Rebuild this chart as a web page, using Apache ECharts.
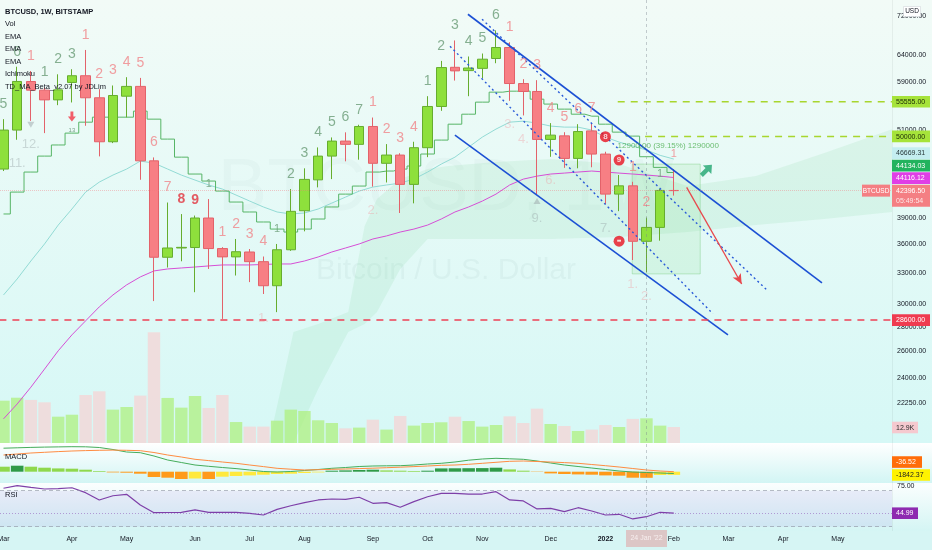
<!DOCTYPE html>
<html>
<head>
<meta charset="utf-8">
<script src="https://cdn.jsdelivr.net/npm/echarts@6.0.0/dist/echarts.min.js"></script>
<style>
html,body{margin:0;padding:0;background:#d6f6f5;}
#chart{width:932px;height:550px;}
</style>
</head>
<body>
<div id="chart"></div>
<script>
// ---------------- DATA ----------------
const weeks = ['2021-03-01','2021-03-08','2021-03-15','2021-03-22','2021-03-29','2021-04-05','2021-04-12','2021-04-19','2021-04-26','2021-05-03',
'2021-05-10','2021-05-17','2021-05-24','2021-05-31','2021-06-07','2021-06-14','2021-06-21','2021-06-28','2021-07-05','2021-07-12',
'2021-07-19','2021-07-26','2021-08-02','2021-08-09','2021-08-16','2021-08-23','2021-08-30','2021-09-06','2021-09-13','2021-09-20',
'2021-09-27','2021-10-04','2021-10-11','2021-10-18','2021-10-25','2021-11-01','2021-11-08','2021-11-15','2021-11-22','2021-11-29',
'2021-12-06','2021-12-13','2021-12-20','2021-12-27','2022-01-03','2022-01-10','2022-01-17','2022-01-24','2022-01-31','2022-02-07'];

const open  = [45270,50970,59080,57545,55870,58910,60130,56230,49190,56500,58210,46420,34620,35610,35660,39010,35550,34660,35180,34160,31750,35420,39880,43810,47090,49290,48800,51530,46070,47240,43210,48310,54760,61690,61070,61490,63360,65520,58720,57320,49540,50080,46760,50840,47380,41950,43020,36340,37910,42420];
const close = [50970,59090,57545,55870,57600,60130,56230,49190,56620,58210,46420,34620,35610,35680,39010,35550,34660,35210,34160,31750,35420,39810,43870,47090,49290,48800,51530,46070,47240,43210,48310,54760,61640,61020,61560,63230,65520,58720,57320,49540,50190,46760,50740,47380,41950,43020,36340,37910,42420,42396.5];
const low   = [45000,49490,52420,50500,54980,55430,51640,47050,48990,52960,43820,30300,33560,34200,31130,33410,28700,32750,32100,30960,29300,35300,37460,42820,43910,46350,46580,42920,43460,39610,40790,46940,54040,59250,56500,59680,62460,55710,53290,41950,46990,45440,45380,45520,40700,39830,34330,33080,36410,41760];
const high  = [52690,61800,61000,58000,60390,61330,65030,57720,58370,59860,59730,46900,40890,39480,39300,41320,35700,36600,35500,34700,36050,42600,45370,48350,49840,50620,51800,52950,48840,47500,49190,56500,62900,66940,63750,64330,69020,66570,59500,59320,52060,50640,51890,52060,47720,44460,43550,39060,42600,45270];
const volumeK = [34.1,36.5,34.7,32.8,21.2,22.8,38.7,41.7,26.9,29.0,38.2,89.2,36.3,28.5,37.9,28.2,38.7,16.9,13.2,13.2,18.0,26.9,25.8,18.3,16.1,11.8,12.4,18.8,10.8,21.8,14.0,16.1,16.7,21.2,17.7,13.2,14.5,21.5,16.1,27.7,15.3,13.7,9.7,10.8,14.5,12.9,19.4,19.9,14.0,12.9];

const emaFast = [30870,32410,34230,36050,38180,40090,42210,43510,44450,45270,46380,46100,45270,44450,43780,43130,42600,41830,41070,40340,39730,39490,39610,40090,40820,41570,42340,42860,43130,43380,43910,44860,45960,46940,48390,49890,51120,52210,52370,52060,51590,51430,51430,50970,49890,49140,48550,47960,47200,46669.31];
const emaSlow = [21180,22160,23320,24640,26050,27340,28530,29770,30870,31830,32610,33210,33410,33510,33610,33720,33820,33820,33820,33870,33920,33920,34230,34650,35180,35610,36050,36600,36940,37380,37720,38180,38890,39730,40340,41070,41950,43130,43910,44310,44590,44720,44860,45000,44860,44720,44590,44450,44310,44116.12];
const baseLine = [39490,42210,44860,47090,48710,50500,52210,53010,53010,53010,53990,52690,49590,46940,44590,43650,42340,40950,39730,38540,37720,37380,37720,38890,40340,41950,42990,44860,45000,45270,45690,47390,49440,51890,53490,55490,57200,57370,57370,55990,55160,54320,53490,53170,51890,50650,50040,47000,45500,44800];

// Ichimoku cloud outline (bar index, upper, lower)
const cloudX   = [19.4,21.2,23,25.2,26.4,27.3,29,31,32.5,36,40,45,50,55,60,65];
const cloudTop = [19700,27590,28260,29320,38060,41320,43910,45270,45690,46240,46660,45960,42990,44320,47530,51120];
const cloudBot = [19700,19700,23200,27590,28260,29320,33410,36600,36600,36600,36600,36820,37380,38180,38890,39730];

const macdLine = [23500,23900,24300,24600,24800,25000,24900,24200,22200,19700,19000,15700,11700,9200,6700,5400,4200,3100,1700,200,-300,200,1200,2200,3400,4200,5200,5700,5900,6000,6700,7700,8400,9700,11500,12700,13400,12900,12400,10700,8700,6700,5200,3700,2200,700,-300,-800,-1300,-1842];
const signalLine = [16700,17700,18700,19400,20100,20700,21100,21400,21600,21400,21000,19200,16700,14700,12400,11100,9700,8400,6700,5100,3400,2500,1700,2000,2400,2700,3100,3500,4000,4500,5100,5700,6400,6700,7400,8400,9400,10400,10700,10200,9700,9100,8400,7200,6000,4700,3200,1700,700,0];
const macdHist = [5000,6000,5000,4000,3300,3000,2000,700,-700,-1000,-2000,-5300,-6000,-7300,-6800,-7300,-5000,-4300,-3700,-3000,-2300,-2000,-1300,-700,1000,1300,1700,2000,1300,1000,700,1000,3300,3400,3500,3600,4000,2300,1000,-300,-1700,-2300,-2700,-3000,-3700,-4000,-6000,-6100,-3300,-3200];
const rsi = [72.7,75.6,73.6,71.9,72.4,73.3,67.8,59.7,64.4,66.0,54.1,45.6,45.8,46.0,48.6,46.0,46.0,46.0,44.9,43.0,49.3,53.3,56.7,59.7,60.8,60.4,62.7,56.0,56.7,51.6,57.8,63.3,67.1,67.1,66.3,66.3,68.9,59.7,58.6,49.7,50.4,46.7,51.1,47.4,43.0,43.8,38.6,41.1,46.0,44.99];

const monthTicks = [0,5,9,14,18,22,27,31,35,40,44,49,53,57,61];
const monthNames = ['Mar','Apr','May','Jun','Jul','Aug','Sep','Oct','Nov','Dec','2022','Feb','Mar','Apr','May'];
const priceTicks = [72000,64000,59000,51000,39000,36000,33000,30000,28000,26000,24000,22250];

// drawing tools (bar index, price)
const channelUpper = [[33.95,72490],[59.83,32020]];
const channelLower = [[33.0,50200],[52.96,27340]];
const dottedA = [[34.98,71400],[55.88,31250]];
const dottedB = [[32.64,65770],[51.86,29150]];
const levels = [{v:55555,from:44.9,c:'#a8d62e'},{v:50000,from:46.9,c:'#a8d62e'},{v:28600,from:-0.3,c:'#ee4055'}];
const redArrow = [[49.94,42820],[53.96,31920]];
const greenArrowAt = [51.4,45130];
const measureBox = [[45.96,45960],[50.93,32910]];
const measureText = {at:[44.85,48540], text:'12900.00 (39.15%) 1290000'};

// TD sequential labels: [bar, text, style]
const tdTop = [[0,'5','g'],[1,'6','g'],[2,'1','r'],[3,'1','g'],[4,'2','g'],[5,'3','g'],[6,'1','r'],[7,'2','r'],[8,'3','r'],[9,'4','r'],[10,'5','r'],[11,'6','r'],[12,'7','r'],[13,'8','R'],[14,'9','R'],[15,'1','s'],[16,'1','r'],[17,'2','r'],[18,'3','r'],[19,'4','r'],[20,'1','s'],[21,'2','g'],[22,'3','g'],[23,'4','g'],[24,'5','g'],[25,'6','g'],[26,'7','g'],[27,'1','r'],[28,'2','r'],[29,'3','r'],[30,'4','r'],[31,'1','g'],[32,'2','g'],[33,'3','g'],[34,'4','g'],[35,'5','g'],[36,'6','g'],[37,'1','r'],[38,'2','r'],[39,'3','r'],[40,'4','r'],[41,'5','r'],[42,'6','r'],[43,'7','r'],[46,'1','r'],[47,'2','r'],[48,'1','s'],[49,'1','q']];
const tdBadges = [[44,'8'],[45,'9']];
const tdBelow = [[1,'11.','k'],[2,'12.','k'],[19,'1.','p'],[27,'2.','p'],[37,'3.','p'],[38,'4.','p'],[39,'9.','k'],[40,'6.','p'],[44,'7.','k'],[46,'1.','p'],[47,'2.','p']];

// ---------------- CHART ----------------
const FONT = 'Liberation Sans, Arial, sans-serif';
const XMIN = -0.256, XMAX = 64.949;
const chart = echarts.init(document.getElementById('chart'), null, {renderer:'canvas'});

const tdStyle = {
  g:{color:'#6a9c77',fontSize:14}, r:{color:'#f0868a',fontSize:14},
  R:{color:'#e2323c',fontSize:14,fontWeight:'bold'},
  s:{color:'#6a9c77',fontSize:11}, q:{color:'#f0868a',fontSize:11},
  k:{color:'rgba(150,162,166,0.5)',fontSize:13}, p:{color:'rgba(240,150,156,0.45)',fontSize:13}
};
const labelData = [];
tdTop.forEach(([i,t,s]) => labelData.push({value:[i,high[i]], label:Object.assign({show:true,position:'inside',offset:[0,-15],formatter:t,fontFamily:FONT}, tdStyle[s])}));
tdBelow.forEach(([i,t,s]) => labelData.push({value:[i,low[i]], label:Object.assign({show:true,position:'inside',offset:[0,24],formatter:t,fontFamily:FONT}, tdStyle[s])}));

const xAxes = [0,1,2,3].map(g => ({
  type:'value', gridIndex:g, min:XMIN, max:XMAX, show: g===3,
  axisLine:{show:false}, axisTick:{show:false}, splitLine:{show:false},
  axisLabel: g===3 ? {
    customValues: monthTicks, margin:5, fontSize:7, color:'#131722', fontFamily:FONT,
    formatter: v => { const n = monthNames[monthTicks.indexOf(v)] || ''; return n==='2022' ? '{b|2022}' : n; },
    rich:{b:{fontWeight:'bold',fontSize:7,color:'#131722',fontFamily:FONT}}
  } : {show:false}
}));

const up = '#8ee03c', upB = '#66ad2e', dn = '#f77f84', dnB = '#e3626a';

const option = {
  animation:false,
  backgroundColor:'#d6f6f5',
  grid:[
    {left:0, top:0, width:892, height:443, outerBoundsMode:'none'},
    {left:0, top:0, width:892, height:443, outerBoundsMode:'none'},
    {left:0, top:445, width:892, height:38, outerBoundsMode:'none'},
    {left:0, top:484, width:892, height:47, outerBoundsMode:'none'}
  ],
  xAxis: xAxes,
  yAxis:[
    {type:'log', gridIndex:0, min:19680, max:75700, position:'right',
     axisLine:{show:false}, axisTick:{show:false}, splitLine:{show:false},
     axisLabel:{customValues:priceTicks, formatter:v=>Number(v).toFixed(2), fontSize:7, color:'#131722', margin:5, fontFamily:FONT}},
    {type:'value', gridIndex:1, min:0, max:357, show:false, splitLine:{show:false}},
    {type:'value', gridIndex:2, min:-11300, max:26700, show:false, splitLine:{show:false}},
    {type:'value', gridIndex:3, min:25.22, max:77.44, position:'right',
     axisLine:{show:false}, axisTick:{show:false}, splitLine:{show:false},
     axisLabel:{customValues:[75], formatter:v=>Number(v).toFixed(2), fontSize:7, color:'#131722', margin:5, fontFamily:FONT}}
  ],
  series:[
    {type:'custom', xAxisIndex:0, yAxisIndex:0, z:1, silent:true, clip:true, data:[[0,30000]],
     renderItem:(p, api) => {
       const pts = [];
       for (let k=0;k<cloudX.length;k++) pts.push(api.coord([cloudX[k], cloudTop[k]]));
       for (let k=cloudX.length-1;k>=0;k--) pts.push(api.coord([cloudX[k], cloudBot[k]]));
       return {type:'polygon', shape:{points:pts}, style:{fill:'rgba(120,212,150,0.14)'}};
     }},
    {type:'bar', xAxisIndex:1, yAxisIndex:1, z:1, barWidth:12.4, silent:true,
     data: volumeK.map((v,i)=>[i,v]),
     itemStyle:{color: p => close[p.dataIndex] >= open[p.dataIndex] ? 'rgba(172,240,120,0.7)' : 'rgba(242,216,216,0.85)'}},
    {type:'candlestick', xAxisIndex:0, yAxisIndex:0, z:3, barWidth:10,
     data: open.map((o,i)=>[i,o,close[i],low[i],high[i]]),
     encode:{x:0, y:[1,2,3,4]},
     itemStyle:{color:up, color0:dn, borderColor:upB, borderColor0:dnB, borderWidth:1},
     markLine:{silent:true, symbol:['none','none'], label:{show:false},
       lineStyle:{color:'rgba(242,120,125,0.4)', type:'dotted', width:1},
       data:[{yAxis:close[close.length-1]}]},
     markArea:{silent:true, itemStyle:{color:'rgba(120,222,120,0.14)', borderColor:'rgba(90,190,90,0.3)', borderWidth:1},
       data:[[{coord:measureBox[0]},{coord:measureBox[1]}]]}
    },
    {type:'line', xAxisIndex:0, yAxisIndex:0, z:2, symbol:'none', data:emaFast.map((v,i)=>[i,v]), lineStyle:{color:'#93dbd5', width:1}},
    {type:'line', xAxisIndex:0, yAxisIndex:0, z:2, symbol:'none', data:emaSlow.map((v,i)=>[i,v]), lineStyle:{color:'#d64fd6', width:1}},
    {type:'line', xAxisIndex:0, yAxisIndex:0, z:2, symbol:'none', step:'middle', data:baseLine.map((v,i)=>[i,v]), lineStyle:{color:'#57b567', width:1}},
    {type:'line', xAxisIndex:0, yAxisIndex:0, z:4, symbol:'none', data:channelUpper, lineStyle:{color:'#1c50d4', width:1.6}},
    {type:'line', xAxisIndex:0, yAxisIndex:0, z:4, symbol:'none', data:channelLower, lineStyle:{color:'#1c50d4', width:1.6}},
    {type:'line', xAxisIndex:0, yAxisIndex:0, z:4, symbol:'none', data:dottedA, lineStyle:{color:'#2a5bd8', width:1.4, type:[2,3]}},
    {type:'line', xAxisIndex:0, yAxisIndex:0, z:4, symbol:'none', data:dottedB, lineStyle:{color:'#2a5bd8', width:1.4, type:[2,3]}},
    ...levels.map(l => ({type:'line', xAxisIndex:0, yAxisIndex:0, z:4, symbol:'none', data:[[l.from,l.v],[XMAX,l.v]], lineStyle:{color:l.c, width:1.5, type:[7,6]}})),
    {type:'line', xAxisIndex:0, yAxisIndex:0, z:5, symbol:'none', data:[], 
     markLine:{silent:true, symbol:['none','arrow'], symbolSize:[7,10], label:{show:false},
       lineStyle:{color:'#e8484d', width:1.3, type:'solid'},
       data:[[{coord:redArrow[0]},{coord:redArrow[1]}]]}},
    {type:'scatter', xAxisIndex:0, yAxisIndex:0, z:6, silent:true,
     symbol:'path://M5,0 L10,5.5 L6.8,5.5 L6.8,12 L3.2,12 L3.2,5.5 L0,5.5 Z', symbolSize:[12,15], symbolRotate:-45,
     itemStyle:{color:'#1fa56f'}, data:[greenArrowAt]},
    {type:'scatter', xAxisIndex:0, yAxisIndex:0, z:6, silent:true, symbolSize:1, itemStyle:{color:'rgba(0,0,0,0)'},
     data:[{value:measureText.at, label:{show:true, position:'right', distance:0, formatter:measureText.text, color:'#4caf50', fontSize:8, fontFamily:FONT}}]},
    {type:'scatter', xAxisIndex:0, yAxisIndex:0, z:7, silent:true, symbolSize:1, itemStyle:{color:'rgba(0,0,0,0)'}, data:labelData},
    {type:'scatter', xAxisIndex:0, yAxisIndex:0, z:7, silent:true, symbol:'circle', symbolSize:11, symbolOffset:[0,-15],
     itemStyle:{color:'#e8121f'},
     data: tdBadges.map(([i,t]) => ({value:[i,high[i]], label:{show:true, position:'inside', formatter:t, color:'#fff', fontSize:8, fontWeight:'bold', fontFamily:FONT}}))},
    {type:'scatter', xAxisIndex:0, yAxisIndex:0, z:7, silent:true, symbol:'circle', symbolSize:11, symbolOffset:[0,30],
     itemStyle:{color:'#e8121f'},
     data:[{value:[45,low[45]], label:{show:true, position:'inside', formatter:'▬', color:'#fff', fontSize:5, fontFamily:'DejaVu Sans'}}]},
    {type:'scatter', xAxisIndex:0, yAxisIndex:0, z:7, silent:true,
     symbol:'path://M3.2,0 L6.8,0 L6.8,6 L10,6 L5,12 L0,6 L3.2,6 Z', symbolSize:[8,10], symbolOffset:[0,14],
     itemStyle:{color:'#f23645'}, data:[[5,low[5]]]},
    {type:'scatter', xAxisIndex:0, yAxisIndex:0, z:7, silent:true, symbolSize:1, itemStyle:{color:'rgba(0,0,0,0)'},
     data:[{value:[5,low[5]], label:{show:true, position:'inside', offset:[0,28], formatter:'13', color:'#5d8c6b', fontSize:6, fontFamily:FONT}}]},
    {type:'scatter', xAxisIndex:0, yAxisIndex:0, z:7, silent:true, symbol:'triangle', symbolSize:[7,6],
     itemStyle:{color:'rgba(150,160,165,0.6)'},
     data:[{value:[2,low[2]], symbolRotate:180, symbolOffset:[0,4]},{value:[39,low[39]], symbolOffset:[0,7]}]},
    // MACD
    {type:'bar', xAxisIndex:2, yAxisIndex:2, barWidth:12.6, silent:true, data:macdHist.map((v,i)=>[i,v]),
     itemStyle:{color: p => {
       const i = p.dataIndex, v = macdHist[i], pv = i>0 ? macdHist[i-1] : v+1;
       if (v >= 0) return v > pv ? '#2f9a47' : '#8fd84c';
       return v < pv ? '#ff9a1a' : '#ffe93d';
     }}},
    {type:'line', xAxisIndex:2, yAxisIndex:2, symbol:'none', z:3, data:macdLine.map((v,i)=>[i,v]), lineStyle:{color:'#45ad5b', width:1}},
    {type:'line', xAxisIndex:2, yAxisIndex:2, symbol:'none', z:3, data:signalLine.map((v,i)=>[i,v]), lineStyle:{color:'#ff8c42', width:1}},
    // RSI
    {type:'line', xAxisIndex:3, yAxisIndex:3, symbol:'none', z:3, data:rsi.map((v,i)=>[i,v]), lineStyle:{color:'#7e3fa8', width:1.2},
     markArea:{silent:true, itemStyle:{color:'rgba(150,120,225,0.13)'}, data:[[{yAxis:30},{yAxis:70}]]},
     markLine:{silent:true, symbol:['none','none'], label:{show:false},
       data:[{yAxis:70, lineStyle:{color:'rgba(140,145,160,0.6)', type:[4,3], width:1}},
             {yAxis:30, lineStyle:{color:'rgba(140,145,160,0.6)', type:[4,3], width:1}},
             {yAxis:rsi[rsi.length-1], lineStyle:{color:'rgba(150,100,190,0.6)', type:[1,2], width:1}}]}}
  ]
};
chart.setOption(option);

// ---------------- OVERLAY TEXT / TAGS ----------------
const Y  = v => chart.convertToPixel({yAxisIndex:0}, v);
const X  = v => chart.convertToPixel({xAxisIndex:0}, v);
const YV = v => chart.convertToPixel({yAxisIndex:1}, v);
const YM = v => chart.convertToPixel({yAxisIndex:2}, v);
const YR = v => chart.convertToPixel({yAxisIndex:3}, v);
const grad = (a,b) => ({type:'linear',x:0,y:0,x2:0,y2:1,colorStops:[{offset:0,color:a},{offset:1,color:b}]});
const rect = (x,y,w,h,fill,z,extra) => Object.assign({type:'rect', z:z, silent:true, shape:{x,y,width:w,height:h}, style:{fill}}, extra||{});
const txt = (x,y,t,font,fill,z,align) => ({type:'text', z:z, silent:true, style:{x, y, text:t, font, fill, align:align||'left', verticalAlign:'middle'}});
const F7 = '7px ' + FONT;
function tag(yc, t, bg, fg, w) {
  return [rect(892, yc-5.8, w, 11.6, bg, 60), txt(896, yc+0.3, t, F7, fg, 61)];
}
const els = [];
els.push(rect(0,0,932,443, grad('#f2fbf7','#d6f8f6'), -20));
els.push(rect(0,443,932,40, grad('#ffffff','#d2f5f4'), -20));
els.push(rect(0,483,932,48, grad('#fbfefe','#d4f5f4'), -20));
els.push(rect(0,531,932,19, '#d6f5f4', -20));
els.push({type:'line', z:-5, silent:true, shape:{x1:892.5,y1:0,x2:892.5,y2:531}, style:{stroke:'rgba(0,0,0,0.05)', lineWidth:1}});
// watermark
els.push(txt(446, 190, 'BTCUSD, 1W', '74px ' + FONT, 'rgba(20,70,60,0.028)', -15, 'center'));
els.push(txt(446, 271, 'Bitcoin / U.S. Dollar', '30px ' + FONT, 'rgba(20,70,60,0.045)', -15, 'center'));
// legend
els.push(txt(5, 12, 'BTCUSD, 1W, BITSTAMP', 'bold 7.5px ' + FONT, '#131722', 50));
['Vol','EMA','EMA','EMA','Ichimoku','TD_MA_Beta_v2.07 by JDLim'].forEach((t,k) => els.push(txt(5, 24 + k*12.6, t, '7.5px ' + FONT, '#131722', 50)));
els.push(txt(5, 457, 'MACD', '7.5px ' + FONT, '#131722', 50));
els.push(txt(5, 495, 'RSI', '7.5px ' + FONT, '#131722', 50));
// crosshair
const cx = Math.round(X(47)) + 0.5;
els.push({type:'line', z:40, silent:true, shape:{x1:cx,y1:0,x2:cx,y2:530}, style:{stroke:'rgba(120,130,140,0.4)', lineWidth:1, lineDash:[3,3]}});
els.push(rect(cx-20.5, 530, 41, 17, '#dcc6c6', 60));
els.push(txt(cx, 538.5, "24 Jan '22", F7, '#f7eeee', 61, 'center'));
// USD
els.push(rect(903.5, 6.5, 17, 10, '#ffffff', 60, {style:{fill:'#ffffff', stroke:'#d3d7dc', lineWidth:0.6}}));
els.push(txt(912, 11.7, 'USD', '6.5px ' + FONT, '#131722', 61, 'center'));
// price tags
els.push(...tag(Y(55555), '55555.00', '#a6e33a', '#1b2a05', 38));
els.push(...tag(Y(50000), '50000.00', '#a6e33a', '#1b2a05', 38));
const yp = Y(close[close.length-1]);
els.push(...tag(yp-37.5, '46669.31', '#c4eef0', '#2a3a3c', 38));
els.push(...tag(yp-25, '44134.03', '#22b35e', '#ffffff', 38));
els.push(...tag(yp-12.5, '44116.12', '#e03ee6', '#ffffff', 38));
els.push(rect(892, yp-6, 38, 22, '#f47f83', 60));
els.push(txt(896, yp+0.3, '42396.50', F7, '#ffffff', 61));
els.push(txt(896, yp+10.3, '05:49:54', F7, '#fde6e7', 61));
els.push(rect(862, yp-6, 28, 12, '#f47f83', 60));
els.push(txt(876, yp+0.2, 'BTCUSD', '6.5px ' + FONT, '#ffffff', 61, 'center'));
els.push(...tag(Y(28600), '28600.00', '#ef3b50', '#ffffff', 38));
els.push(...tag(YV(volumeK[volumeK.length-1]) + 0.5, '12.9K', '#f5c9cf', '#2b2b2b', 26));
const ym = YM(macdLine[macdLine.length-1]);
els.push(...tag(ym-11.5, '-36.52', '#ff6d0a', '#ffffff', 30));
els.push(...tag(ym+1.5, '-1842.37', '#fff200', '#222222', 38));
els.push(...tag(YR(rsi[rsi.length-1]), '44.99', '#8e2bb0', '#ffffff', 26));

chart.setOption({graphic:{elements:els}});
</script>
</body>
</html>
